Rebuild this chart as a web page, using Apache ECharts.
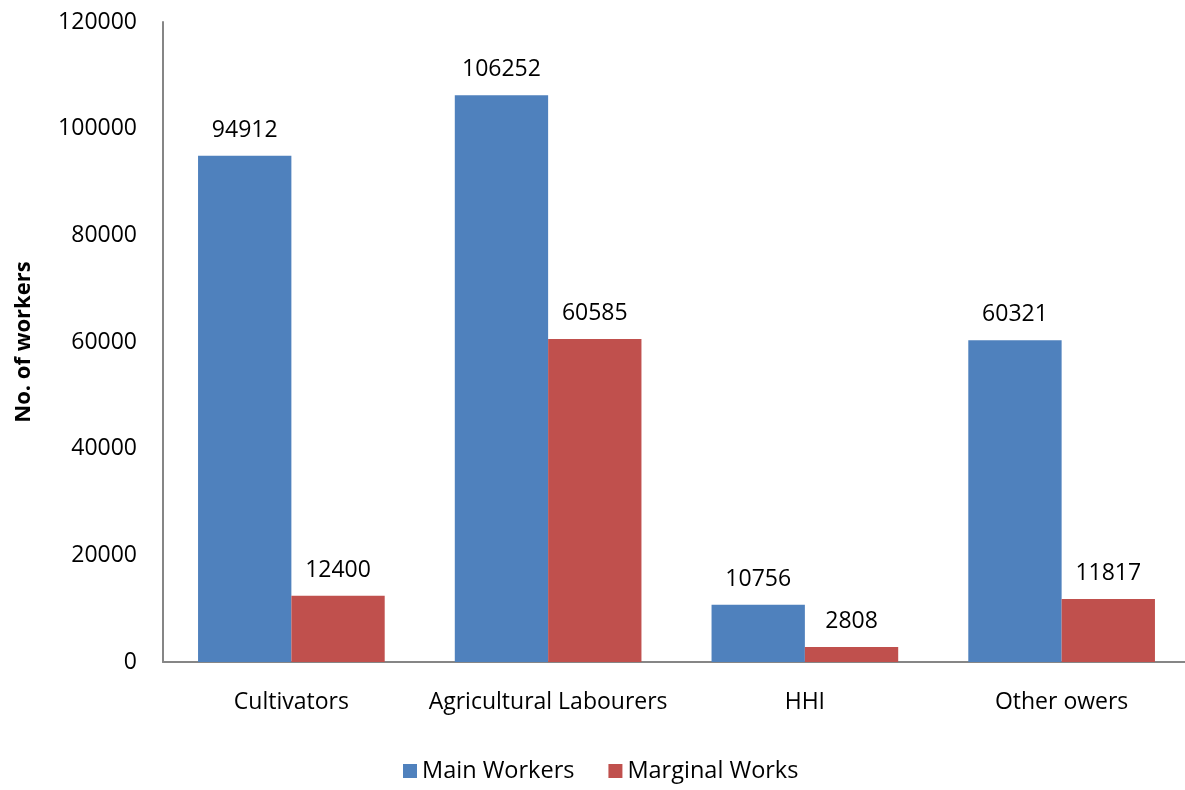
<!DOCTYPE html>
<html><head><meta charset="utf-8">
<script src="https://cdn.jsdelivr.net/npm/echarts@6/dist/echarts.min.js"></script>
<style>html,body{margin:0;padding:0;background:#fff;overflow:hidden}#c{width:1195px;height:790px}</style>
</head><body><div id="c"></div>
<script>
const categories = ['Cultivators', 'Agricultural Labourers', 'HHI', 'Other owers'];
const mainWorkers = [94912, 106252, 10756, 60321];
const marginalWorks = [12400, 60585, 2808, 11817];
const yTicks = { min: 0, max: 120000, interval: 20000 };

const font = '"Open Sans", sans-serif';
const fs = 23;
const chart = echarts.init(document.getElementById('c'));
chart.setOption({
  animation: false,
  textStyle: { fontFamily: font },
  grid: { left: 163, right: 5, top: 22, bottom: 128 },
  legend: {
    bottom: 2, left: 398, itemWidth: 14, itemHeight: 14, itemGap: 34,
    icon: 'rect',
    textStyle: { fontSize: 23.5, color: '#000', fontFamily: font },
    data: ['Main Workers', 'Marginal Works']
  },
  xAxis: {
    type: 'category', data: categories,
    axisLine: { lineStyle: { color: '#868686', width: 2 } },
    axisTick: { show: false },
    axisLabel: { fontSize: fs, color: '#000', margin: 29, interval: 0, fontFamily: font }
  },
  yAxis: {
    type: 'value', min: yTicks.min, max: yTicks.max, interval: yTicks.interval,
    name: 'No. of workers', nameLocation: 'middle', nameGap: 128,
    nameTextStyle: { fontSize: 22, fontWeight: 'bold', color: '#000', fontFamily: font },
    axisLine: { show: true, lineStyle: { color: '#868686', width: 2 } },
    axisTick: { show: false },
    splitLine: { show: false },
    axisLabel: { fontSize: fs, color: '#000', margin: 26, fontFamily: font, formatter: v => String(v) }
  },
  series: [
    { name: 'Main Workers', type: 'bar', data: mainWorkers, barGap: '0%', barCategoryGap: '27.3%',
      itemStyle: { color: '#4F81BD' },
      label: { show: true, position: 'top', distance: 14, fontSize: fs, color: '#000', fontFamily: font } },
    { name: 'Marginal Works', type: 'bar', data: marginalWorks,
      itemStyle: { color: '#C0504D' },
      label: { show: true, position: 'top', distance: 14, fontSize: fs, color: '#000', fontFamily: font } }
  ]
});
</script></body></html>
